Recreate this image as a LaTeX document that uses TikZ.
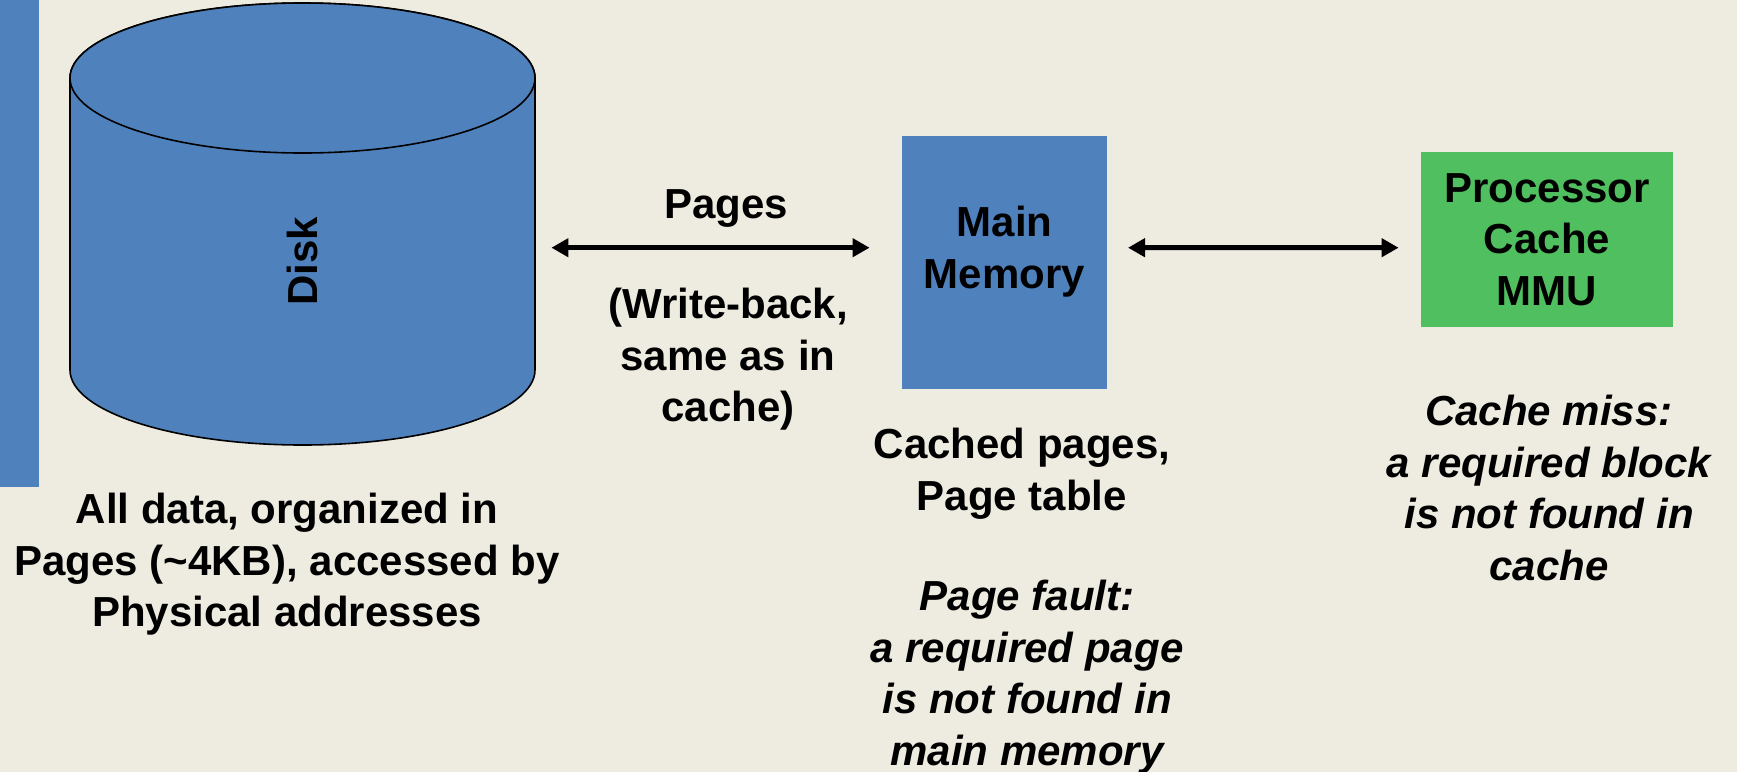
\documentclass[tikz,border=0pt]{standalone}
\usepackage{fontspec}
\setmainfont{Liberation Sans}
\usetikzlibrary{arrows.meta}

\definecolor{slidebg}{HTML}{EEECE1}
\definecolor{memblue}{HTML}{4F81BD}
\definecolor{cpugreen}{HTML}{50BF60}

\tikzset{
  txt/.style={font=\fontsize{21pt}{25.75pt}\selectfont\bfseries, align=center, inner sep=0pt},
  note/.style={txt, font=\fontsize{21pt}{25.75pt}\selectfont\bfseries\itshape},
  link/.style={{Triangle[length=8.5pt,width=9pt]}-{Triangle[length=8.5pt,width=9pt]}, line width=2.5pt}
}

\newcommand{\levelbox}[6] {\node at (#1) (#2) [txt, rectangle, fill=#3, minimum width=#4, minimum height=#5] {#6};}
\newcommand{\levellink}[2] {\draw [link] (#1) -- (#2);}

\begin{document}
\begin{tikzpicture}[x=0.5pt, y=-0.5pt]

\fill [slidebg] (0,0) rectangle (1737,772);
\useasboundingbox (0,0) rectangle (1737,772);
\fill [memblue] (0,0) rectangle (38.6,487);

\filldraw [fill=memblue, line width=0.8pt] (70,78) -- (70,370)
  arc [start angle=180, end angle=360, x radius=116.25pt, y radius=37.5pt] -- (535,78)
  arc [start angle=0, end angle=180, x radius=116.25pt, y radius=37.5pt] -- cycle;
\filldraw [fill=memblue, line width=0.8pt] (302.5,78) ellipse [x radius=116.25pt, y radius=37.5pt];
\node at (302.5,261.5) (disk) [txt, minimum width=232.5pt, minimum height=183.5pt] {\rotatebox{90}{Disk}};

\levelbox {1004.5,262.5}{mem}{memblue}{102.5pt}{126.5pt}{};
\levelbox {1547,239.5}{cpu}{cpugreen}{126pt}{87.5pt}{Processor\\Cache\\MMU};
\node at (1004.5,288) (memname) [txt, anchor=base] {Main\\Memory};

\levellink {[shift={(16,-13.8)}]disk.east}{[shift={(-32,-14.8)}]mem.west};
\levellink {[shift={(20.6,-14.8)}]mem.east}{[shift={(-22,8.2)}]cpu.west};

\node at (726,218) (pagesname) [txt, anchor=base] {Pages};
\node at (728,421.7) (writeback) [txt, anchor=base] {(Write-back,\\same as in\\cache)};
\node at (287,626.7) (diskinfo) [txt, anchor=base] {All data, organized in\\Pages (\textasciitilde4KB), accessed by\\Physical addresses};
\node at (1022,510) (meminfo) [txt, anchor=base] {Cached pages,\\Page table};
\node at (1027,765) (pagefault) [note, anchor=base] {Page fault:\\a required page\\is not found in\\main memory};
\node at (1549,580) (cachemiss) [note, anchor=base] {Cache miss:\\a required block\\is not found in\\cache};

\end{tikzpicture}
\end{document}
